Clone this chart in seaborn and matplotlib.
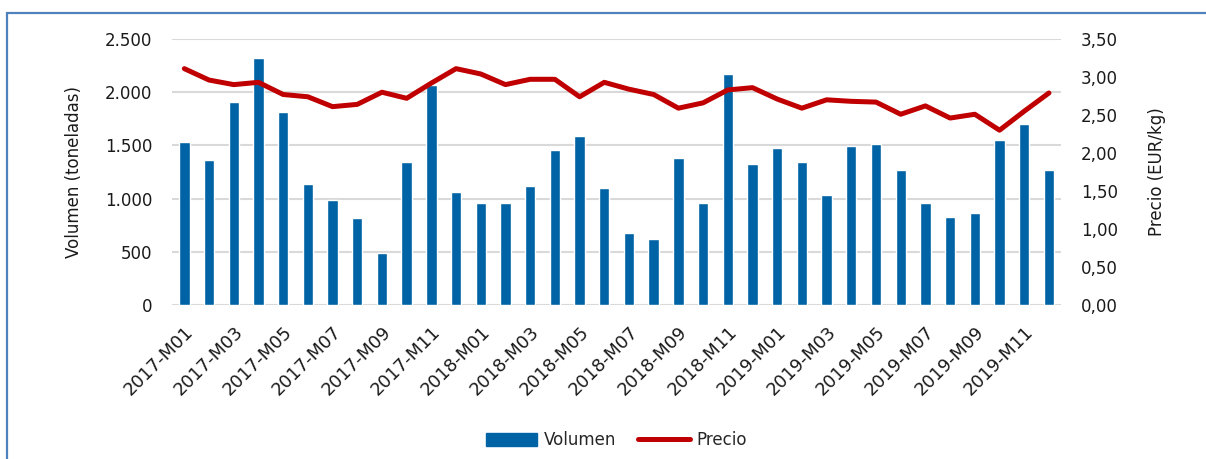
import numpy as np
import pandas as pd
import matplotlib
matplotlib.use("Agg")
import matplotlib.pyplot as plt
from matplotlib.ticker import FuncFormatter, MultipleLocator
from matplotlib.patches import Rectangle
from matplotlib.lines import Line2D
import seaborn as sns

# Monthly periods 2017-M01 .. 2019-M12
periods = [f"{y}-M{m:02d}" for y in (2017, 2018, 2019) for m in range(1, 13)]

# Volume (tonnes)
volumen = [1530, 1360, 1910, 2320, 1810, 1140, 990, 820, 490, 1345, 2068, 1065,
           956, 956, 1121, 1457, 1588, 1103, 674, 617, 1384, 956, 2171, 1328,
           1478, 1347, 1031, 1497, 1516, 1272, 956, 824, 862, 1554, 1704, 1272]

# Price (EUR/kg)
precio = [3.11, 2.96, 2.90, 2.93, 2.77, 2.74, 2.61, 2.64, 2.80, 2.72, 2.92, 3.11,
          3.04, 2.90, 2.97, 2.97, 2.74, 2.93, 2.84, 2.77, 2.59, 2.66, 2.83, 2.86,
          2.71, 2.59, 2.70, 2.68, 2.67, 2.51, 2.62, 2.46, 2.51, 2.30, 2.55, 2.79]

BAR_COLOR = "#0063a6"
LINE_COLOR = "#c00000"
GRID_COLOR = "#d9d9d9"
TEXT_COLOR = "#1a1a1a"

df = pd.DataFrame({"periodo": periods, "volumen": volumen, "precio": precio,
                   "pos": np.arange(len(periods))})

sns.set_theme(style="white")
plt.rcParams["font.family"] = ["DejaVu Sans"]

fig = plt.figure(figsize=(12.06, 4.59), dpi=100)
ax = fig.add_axes([0.1426, 0.3355, 0.7374, 0.5795])

sns.barplot(data=df, x="periodo", y="volumen", color=BAR_COLOR, width=0.42,
            saturation=1, ax=ax, zorder=2)
ax.set_ylim(0, 2500)
ax.set_xlim(-0.5, len(periods) - 0.5)
ax.yaxis.set_major_locator(MultipleLocator(500))
ax.yaxis.set_major_formatter(FuncFormatter(lambda v, p: f"{int(v):,}".replace(",", ".")))
ax.grid(axis="y", color=GRID_COLOR, linewidth=1.5, zorder=0)
ax.set_axisbelow(True)
for s in ax.spines.values():
    s.set_visible(False)
ax.set_xlabel("")
ax.set_ylabel("Volumen (toneladas)", fontsize=12, color=TEXT_COLOR, labelpad=16)
ax.tick_params(axis="y", length=0, labelsize=12, labelcolor=TEXT_COLOR, pad=14)

tick_pos = list(range(0, len(periods), 2))
ax.set_xticks(tick_pos)
ax.set_xticklabels([periods[i] for i in tick_pos], rotation=45, ha="right",
                   rotation_mode="anchor", fontsize=12.8, color=TEXT_COLOR)
ax.tick_params(axis="x", length=0, pad=13)

ax2 = ax.twinx()
sns.lineplot(data=df, x="pos", y="precio", color=LINE_COLOR, linewidth=3.6,
             ax=ax2, solid_capstyle="round", solid_joinstyle="round")
ax2.set_ylim(0, 3.5)
ax2.set_xlim(-0.5, len(periods) - 0.5)
ax2.yaxis.set_major_locator(MultipleLocator(0.5))
ax2.yaxis.set_major_formatter(FuncFormatter(lambda v, p: f"{v:.2f}".replace(".", ",")))
ax2.grid(False)
for s in ax2.spines.values():
    s.set_visible(False)
ax2.set_xlabel("")
ax2.set_ylabel("Precio (EUR/kg)", fontsize=12, color=TEXT_COLOR, labelpad=22)
ax2.tick_params(axis="y", length=0, labelsize=12, labelcolor=TEXT_COLOR, pad=14)

handles = [Rectangle((0, 0), 1, 1, color=BAR_COLOR),
           Line2D([0], [0], color=LINE_COLOR, linewidth=3.6, solid_capstyle="round")]
fig.legend(handles, ["Volumen", "Precio"], loc="center", bbox_to_anchor=(0.511, 0.041),
           ncol=2, frameon=False, fontsize=12, handlelength=3.1, handleheight=0.85,
           columnspacing=1.3, handletextpad=0.4)

# Outer frame
fig.patches.append(Rectangle((0.0062, -0.1), 1.2, 0.9717 + 0.1, transform=fig.transFigure,
                             fill=False, edgecolor="#4f81bd", linewidth=1.6))

fig.savefig("out.png", dpi=100)
